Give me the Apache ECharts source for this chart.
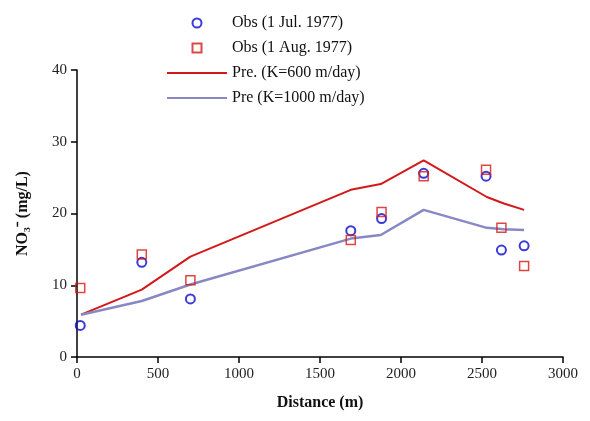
<!DOCTYPE html>
<html>
<head>
<meta charset="utf-8">
<script src="https://cdn.jsdelivr.net/npm/echarts@6/dist/echarts.min.js"></script>
<style>
  html, body { margin: 0; padding: 0; background: #fff; }
  #chart { width: 590px; height: 421px; }
</style>
</head>
<body>
<div id="chart"></div>
<script>
var distance = [20, 400, 700, 1690, 1880, 2140, 2525, 2620, 2760];
var lineDist = [25, 400, 700, 1690, 1875, 2140, 2530, 2635, 2760];
var obsJul = [4.4, 13.2, 8.1, 17.6, 19.3, 25.6, 25.2, 14.9, 15.5];
var obsAug = [9.6, 14.3, 10.7, 16.3, 20.2, 25.2, 26.1, 18.0, 12.7];
var pre600 = [5.9, 9.4, 14.0, 23.3, 24.1, 27.4, 22.3, 21.4, 20.5];
var pre1000 = [5.9, 7.8, 10.1, 16.5, 17.0, 20.5, 18.0, 17.8, 17.7];

function pairs(xs, ys) {
    var out = [];
    for (var i = 0; i < xs.length; i++) {
        out.push([xs[i], ys[i]]);
    }
    return out;
}

var font = 'Liberation Serif';
var blue = '#0a0ad0';
var red = '#d41818';
var chart = echarts.init(document.getElementById('chart'));
chart.setOption({
    animation: false,
    textStyle: { fontFamily: font },
    legend: {
        orient: 'vertical',
        left: 161,
        top: 10,
        itemGap: 9,
        itemWidth: 60,
        itemHeight: 9,
        textStyle: { fontFamily: font, fontSize: 16, color: '#111' },
        data: [
            { name: 'Obs (1 Jul. 1977)', icon: 'circle' },
            { name: 'Obs (1 Aug. 1977)', icon: 'path://M0,0h10v10h-10z' },
            { name: 'Pre. (K=600 m/day)', itemStyle: { opacity: 0 } },
            { name: 'Pre (K=1000 m/day)', itemStyle: { opacity: 0 } }
        ]
    },
    grid: { left: 77, right: 27, top: 70, bottom: 64 },
    xAxis: {
        type: 'value',
        min: 0,
        max: 3000,
        interval: 500,
        name: 'Distance (m)',
        nameLocation: 'middle',
        nameGap: 38,
        nameTextStyle: { fontFamily: font, fontSize: 16, fontWeight: 'bold', color: '#111' },
        axisLine: { lineStyle: { color: '#000', width: 1.5 } },
        axisTick: { length: 6, lineStyle: { color: '#000', width: 1.5 } },
        axisLabel: {
            fontFamily: font, fontSize: 15, color: '#222', margin: 10,
            formatter: function (v) { return String(v); }
        },
        splitLine: { show: false }
    },
    yAxis: {
        type: 'value',
        min: 0,
        max: 40,
        interval: 10,
        name: 'NO\u2083\u207B (mg/L)',
        nameLocation: 'middle',
        nameGap: 46,
        nameTextStyle: { fontFamily: font, fontSize: 16, fontWeight: 'bold', color: '#111' },
        axisLine: { lineStyle: { color: '#000', width: 1.5 } },
        axisTick: { length: 6, lineStyle: { color: '#000', width: 1.5 } },
        axisLabel: { fontFamily: font, fontSize: 15, color: '#222', margin: 10 },
        splitLine: { show: false }
    },
    series: [
        {
            name: 'Obs (1 Jul. 1977)',
            type: 'scatter',
            symbol: 'circle',
            symbolSize: 9,
            itemStyle: { color: 'transparent', borderColor: blue, borderWidth: 2 },
            data: pairs(distance, obsJul),
            z: 5
        },
        {
            name: 'Obs (1 Aug. 1977)',
            type: 'scatter',
            symbol: 'rect',
            symbolSize: 9,
            itemStyle: { color: 'transparent', borderColor: red, borderWidth: 1.5 },
            data: pairs(distance, obsAug),
            z: 5
        },
        {
            name: 'Pre. (K=600 m/day)',
            type: 'line',
            showSymbol: false,
            symbol: 'none',
            color: red,
            lineStyle: { color: red, width: 2 },
            data: pairs(lineDist, pre600)
        },
        {
            name: 'Pre (K=1000 m/day)',
            type: 'line',
            showSymbol: false,
            symbol: 'none',
            color: '#8888c4',
            lineStyle: { color: '#8888c4', width: 2.5 },
            data: pairs(lineDist, pre1000)
        }
    ]
});
</script>
</body>
</html>
